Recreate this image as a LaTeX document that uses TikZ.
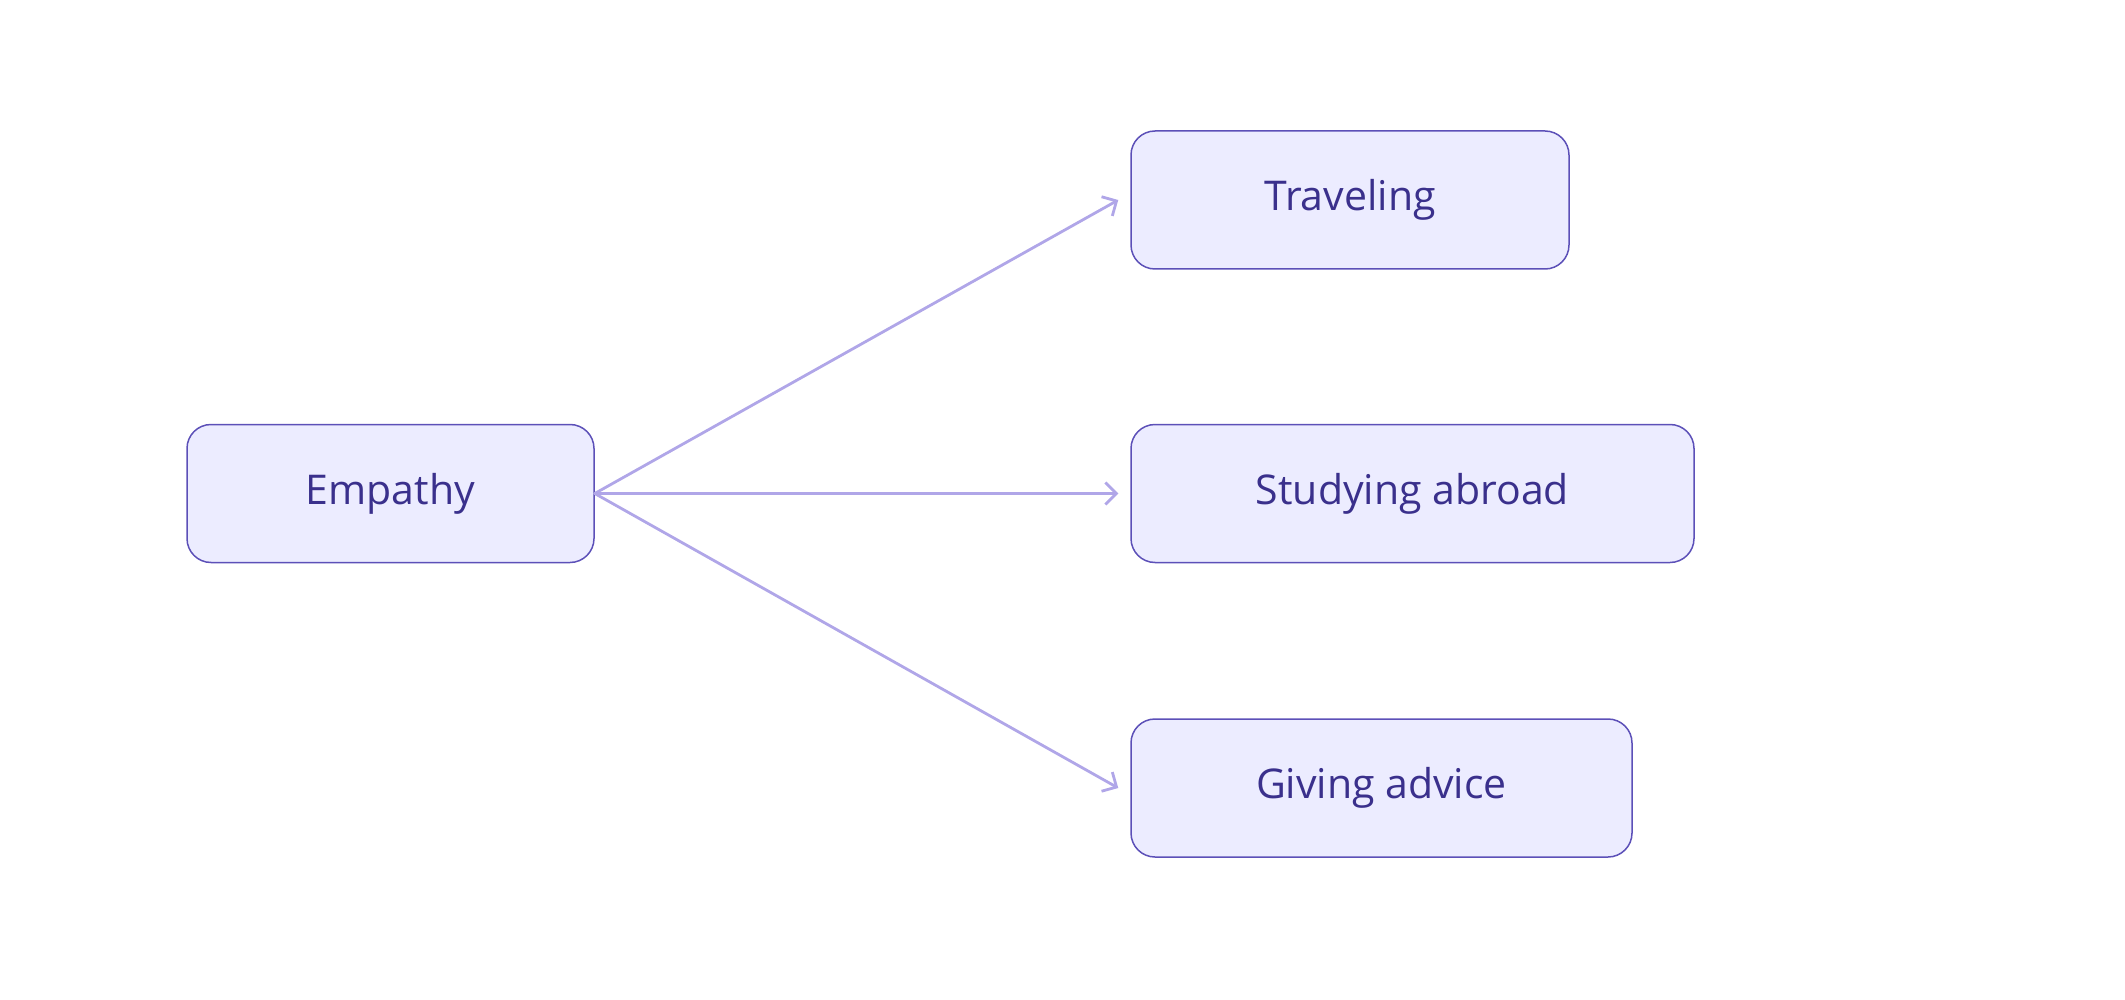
\documentclass[tikz,border=0pt]{standalone}
\usepackage{fontspec}
\setmainfont{Open Sans}
\usetikzlibrary{arrows.meta}
\definecolor{Bfill}{RGB}{236,236,255}
\definecolor{Bdraw}{RGB}{92,80,184}
\definecolor{Btext}{RGB}{58,48,140}
\definecolor{Aline}{RGB}{176,166,232}

\begin{document}
\begin{tikzpicture}[x=0.5pt,y=-0.5pt,line cap=round,line join=round,
  topic/.style={rectangle,rounded corners=12pt,draw=Bdraw,line width=0.75pt,fill=Bfill,
    text=Btext,minimum height=69pt,inner sep=0pt,font=\fontsize{20.5}{24}\selectfont},
  link/.style={draw=Aline,line width=1.4pt,-{Straight Barb[length=5.5pt,width=11pt,line width=1.4pt]}}]
\path[use as bounding box] (0,0) rectangle (2125,1000);
\node[topic,minimum width=203.5pt] (empathy) at (390.5,493.5) {Empathy};
\node[topic,minimum width=219pt] (travel) at (1350,200) {Traveling};
\node[topic,minimum width=281.5pt] (study) at (1412.5,493.5) {Studying abroad};
\node[topic,minimum width=250.5pt] (advice) at (1381.5,788) {Giving advice};
\draw[link] (empathy.east) -- ([xshift=-6pt]travel.west);
\draw[link] (empathy.east) -- ([xshift=-6pt]study.west);
\draw[link] (empathy.east) -- ([xshift=-6pt]advice.west);
\end{tikzpicture}
\end{document}
